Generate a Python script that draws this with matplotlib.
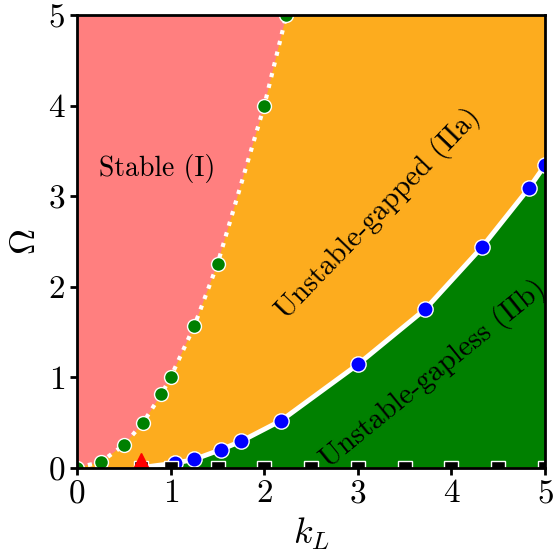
import matplotlib
matplotlib.use('Agg')
import matplotlib.pyplot as plt

plt.rcParams['font.family'] = 'serif'
plt.rcParams['font.serif'] = ['cmr10']
plt.rcParams['mathtext.fontset'] = 'cm'
plt.rcParams['axes.formatter.use_mathtext'] = True

# stability boundary (green points)
k_stab = [0, 0.25, 0.5, 0.7, 0.9, 1.0, 1.25, 1.5, 2.0, 2.236]
om_stab = [0, 0.06, 0.25, 0.49, 0.81, 1.0, 1.56, 2.25, 4.0, 5.0]

# gapped / gapless boundary (blue points)
k_gap = [1.05, 1.25, 1.54, 1.75, 2.18, 3.0, 3.72, 4.33, 4.83, 5.0]
om_gap = [0.05, 0.09, 0.2, 0.29, 0.52, 1.14, 1.75, 2.44, 3.09, 3.34]

# onset point (red triangle) and zero-frequency points (black squares)
k_onset = 0.68
k_zero = [0.68, 1.0, 1.5, 2.0, 2.5, 3.0, 3.5, 4.0, 4.5, 5.0]

kmax = 5.0
ommax = 5.0

c_red = '#ff7f7f'
c_orange = '#fdac1e'
c_green = '#008000'

fig = plt.figure(figsize=(5.55, 5.58), dpi=100)
ax = fig.add_axes([0.139, 0.162, 0.843, 0.811])
ax.set_facecolor(c_red)

# orange region: right of stability boundary
px = k_stab + [kmax, kmax]
py = om_stab + [ommax, 0]
ax.fill(px, py, color=c_orange, lw=0, zorder=1)

# green region: below gapped/gapless line
gx = [k_onset] + k_gap + [kmax]
gy = [0] + om_gap + [0]
ax.fill(gx, gy, color=c_green, lw=0, zorder=2)

# boundary lines
ax.plot(k_stab, om_stab, ':', color='white', lw=3, zorder=3)
ax.plot([k_onset] + k_gap, [0] + om_gap, '-', color='white', lw=3.5, zorder=3)

# markers
ax.plot(k_stab, om_stab, 'o', color=c_green, mec='white', mew=1, ms=10, zorder=5)
ax.plot(k_gap, om_gap, 'o', color='blue', mec='white', mew=1, ms=11, zorder=5)
ax.plot(k_zero, [0] * len(k_zero), 's', color='black', mec='white', mew=1, ms=10, zorder=5)
ax.plot([k_onset], [0], '^', color='red', ms=22, zorder=6)

# region labels
ax.text(0.86, 3.3, 'Stable (I)', fontsize=20, ha='center', va='center', zorder=7)
ax.text(3.22, 2.8, 'Unstable-gapped (IIa)', fontsize=21, rotation=46,
        ha='center', va='center', rotation_mode='anchor', zorder=7)
ax.text(3.8, 1.03, 'Unstable-gapless (IIb)', fontsize=21, rotation=39,
        ha='center', va='center', rotation_mode='anchor', zorder=7)

ax.set_xlim(0, kmax)
ax.set_ylim(0, ommax)
ax.set_xticks([0, 1, 2, 3, 4, 5])
ax.set_yticks([0, 1, 2, 3, 4, 5])
ax.tick_params(labelsize=24, width=2, length=5, direction='out')
for s in ax.spines.values():
    s.set_linewidth(2)
    s.set_zorder(10)
ax.set_xlabel(r'$k_L$', fontsize=26, labelpad=5)
ax.set_ylabel(r'$\Omega$', fontsize=26, labelpad=4)

plt.savefig('out.png', dpi=100)
